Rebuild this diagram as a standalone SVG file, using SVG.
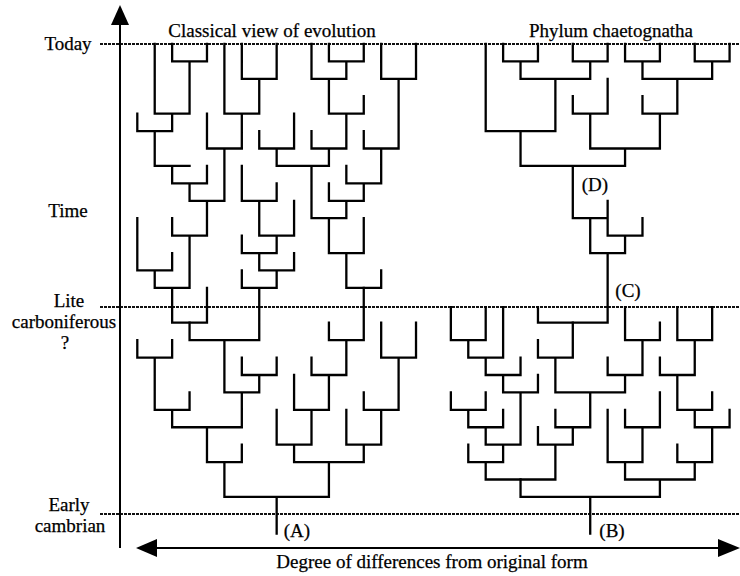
<svg xmlns="http://www.w3.org/2000/svg" width="740" height="576" viewBox="0 0 740 576">
<style>
.t{font-family:"Liberation Serif","Times New Roman",serif;font-size:19px;fill:#000;text-anchor:middle;stroke:#000;stroke-width:0.25}
.br{fill:none;stroke:#000;stroke-width:2.3;stroke-linejoin:miter;stroke-linecap:square}
.dot{stroke:#111;stroke-width:1.8;stroke-dasharray:3 1}
.ax{stroke:#000;stroke-width:2}
</style>
<rect width="740" height="576" fill="#fff"/>
<g id="time-lines">
<line class="dot" x1="100" y1="44" x2="740" y2="44"/>
<line class="dot" x1="100" y1="307" x2="740" y2="307"/>
<line class="dot" x1="100" y1="514" x2="740" y2="514"/>
</g>
<g id="axes">
<line class="ax" x1="120" y1="20" x2="120" y2="548"/>
<polygon points="120,5 111,25 129,25" fill="#000"/>
<line class="ax" x1="150" y1="548" x2="725" y2="548"/>
<polygon points="136,548 157,539 157,557" fill="#000"/>
<polygon points="740,548 718,539 718,557" fill="#000"/>
</g>
<g id="connectors" transform="translate(137.3 44) scale(17.42)">
<g id="classical-tree">
<path class="br" vector-effect="non-scaling-stroke" d="M2 0V1H4V0 M1 0V4H3V1 M6 0V2H8V0 M5 0V4H7V2 M0 4V5H2V4 M4 4V6H6V4 M1 5V7H3 M2 7V8H4V7 M3 8V9H5V6 M2 10V11H4V9 M0 10V13H2V12 M1 13V14H3V11 M2 14V16H4V14"/>
<path class="br" vector-effect="non-scaling-stroke" d="M10 0V2H12V1 M11 0V1H13V0 M14 0V2H16V0 M11 2V4H13V3 M10 5V6H12V4 M13 5V6H15V2 M12 7V8H14V6 M7 5V6H9V4 M8 6V7H11V6 M11 8V9H13V8 M10 7V10H12V9 M11 10V12H13V10 M12 12V14H14V13"/>
<path class="br" vector-effect="non-scaling-stroke" d="M6 7V9H8V8 M7 9V11H9V9 M6 11V12H8V11 M7 12V13H9V12 M6 13V14H8V13 M3 16V17H7V14 M11 16V17H13V14"/>
<path class="br" vector-effect="non-scaling-stroke" d="M0 17V18H2V17 M1 18V21H3V20 M6 18V19H8V18 M5 17V20H7V19 M2 21V22H6V20 M4 22V24H6V23 M10 18V19H12V17 M9 19V21H11V19 M8 21V23H10V21 M14 16V18H16V16 M13 20V21H15V18 M12 21V23H14V21 M9 23V24H13V23 M5 24V26H11V24 M8 26V28.1"/>
</g>
<g id="chaetognatha-tree">
<path class="br" vector-effect="non-scaling-stroke" d="M21 0V1H23V0 M25 0V1H27V0 M22 1V2H26V1 M20 0V5H24V2 M28 0V1H30V0 M32 0V1H34V0 M29 1V2H33V1 M29 3V4H31V2 M25 3V4H27V2 M26 4V6H30V4 M22 5V7H28V6 M25 7V10H27V9 M27 10V11H29V10 M26 10V12H28V11 M23 15.1V16H27V12"/>
<path class="br" vector-effect="non-scaling-stroke" d="M18 15.1V17H20V15.1 M19 17V18H21V15.1 M20 18V19H22V18 M21 19V20H23V19 M18 20V21H20V20 M19 21V22H21V21 M20 22V23H22V20 M19 23V24H21V23 M23 17V18H25V16 M28 15.1V17H30V16 M27 18V19H29V17 M24 18V20H28V19 M24 21V22H26V20 M23 22V23H25V22 M20 24V25H24V23"/>
<path class="br" vector-effect="non-scaling-stroke" d="M31 15.1V17H33V15.1 M30 18V19H32V17 M31 19V21H33V20 M32 21V22H34V21 M31 23V24H33V22 M28 21V22H30V20 M27 21V24H29V22 M28 24V25H32V24 M22 25V26H30V25 M26 26V28.1"/>
</g>
</g>
<g id="titles">
<text class="t" x="272" y="37">Classical view of evolution</text>
<text class="t" x="611" y="37">Phylum chaetognatha</text>
</g>
<g id="time-labels">
<text class="t" x="68" y="50">Today</text>
<text class="t" x="68" y="217">Time</text>
<text class="t" x="69" y="307">Lite</text>
<text class="t" x="64" y="328">carboniferous</text>
<text class="t" x="65" y="349">?</text>
<text class="t" x="69" y="511">Early</text>
<text class="t" x="70" y="532">cambrian</text>
</g>
<g id="point-labels">
<text class="t" x="297" y="537">(A)</text>
<text class="t" x="612" y="537">(B)</text>
<text class="t" x="628" y="297">(C)</text>
<text class="t" x="595" y="191">(D)</text>
</g>
<g id="x-label">
<text class="t" x="432" y="568">Degree of differences from original form</text>
</g>
</svg>
